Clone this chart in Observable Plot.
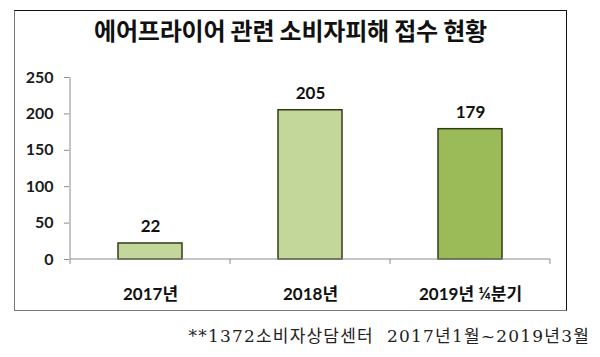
<!DOCTYPE html>
<html><head><meta charset="utf-8">
<script src="https://cdn.jsdelivr.net/npm/d3@7"></script>
<script src="https://cdn.jsdelivr.net/npm/@observablehq/plot@0.6"></script>
<style>
html,body{margin:0;padding:0;background:#fff;}
#wrap{position:relative;width:600px;height:357px;overflow:hidden;}
#frame{position:absolute;left:14px;top:10px;width:551px;height:299px;border-top:1.5px solid #111;border-right:1.5px solid #111;border-left:1.5px solid #777;border-bottom:1.5px solid #777;}
#title{position:absolute;left:15px;width:551px;top:12px;text-align:center;font-family:"Noto Sans CJK KR",sans-serif;font-weight:700;font-size:24px;color:#111;letter-spacing:-0.2px;}
#chart{position:absolute;left:0;top:0;}
#caption{position:absolute;right:10px;top:324px;font-family:"DejaVu Serif","Liberation Serif","Noto Sans CJK KR",serif;font-size:17px;line-height:24px;letter-spacing:1.2px;color:#222;white-space:pre;}
</style></head>
<body><div id="wrap"><div id="frame"></div><div id="title">에어프라이어 관련 소비자피해 접수 현황</div><div id="chart"></div><div id="caption">**1372소비자상담센터  2017년1월~2019년3월</div></div>
<script>
const categories = ["2017년", "2018년", "2019년 ¼분기"];
const values = [22, 205, 179];
const fills = ["#c4d79b", "#c4d79b", "#9bbb59"];
const yTicks = [0, 50, 100, 150, 200, 250];

const data = categories.map((c, i) => ({cat: c, value: values[i], fill: fills[i]}));
const font = "Lato, 'Noto Sans CJK KR', sans-serif";

const boundaryTicks = (index, scales, values, dimensions) => {
  const g = d3.create("svg:g");
  const x = scales.x, y = scales.y;
  const step = x.step(), bw = x.bandwidth();
  const y0 = y(0);
  const starts = categories.map(c => x(c) + bw / 2 - step / 2);
  starts.push(x(categories[categories.length - 1]) + bw / 2 + step / 2);
  g.append("line").attr("x1", starts[0]).attr("x2", starts[starts.length - 1])
    .attr("y1", y0).attr("y2", y0).attr("stroke", "#8c8c8c").attr("stroke-width", 1);
  starts.forEach(s => g.append("line").attr("x1", s).attr("x2", s)
    .attr("y1", y0).attr("y2", y0 + 5).attr("stroke", "#8c8c8c").attr("stroke-width", 1));
  g.append("line").attr("x1", starts[0]).attr("x2", starts[0])
    .attr("y1", y(250)).attr("y2", y0).attr("stroke", "#8c8c8c").attr("stroke-width", 1);
  return g.node();
};

const chart = Plot.plot({
  width: 600,
  height: 310,
  marginLeft: 69,
  marginRight: 50,
  marginTop: 77,
  marginBottom: 51,
  style: {background: "transparent", fontFamily: font},
  x: {domain: categories, paddingInner: 0.6, paddingOuter: 0.3, label: null, axis: null},
  y: {domain: [0, 250], label: null, axis: null},
  marks: [
    Plot.axisY(yTicks, {tickSize: 5, tickPadding: 11, stroke: "#8c8c8c", fill: "#1a1a1a", fontSize: 16, fontWeight: 700, label: null, anchor: "left"}),
    Plot.barY(data, {x: "cat", y: "value", fill: "fill", stroke: "#2f3d16", strokeWidth: 1.5}),
    boundaryTicks,
    Plot.text(data, {x: "cat", y: "value", text: d => String(d.value), dy: -17, fill: "#111", fontSize: 17, fontWeight: 700}),
    Plot.text(data, {x: "cat", y: 0, text: "cat", dy: 35, fill: "#111", fontSize: 17, fontWeight: 700})
  ]
});
document.getElementById("chart").appendChild(chart);
</script></body></html>
